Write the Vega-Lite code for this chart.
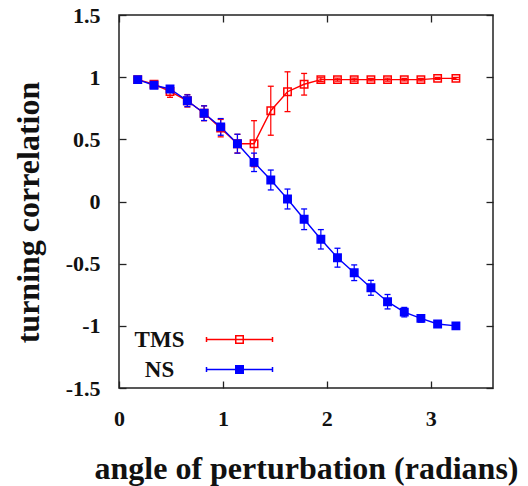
{
  "$schema": "https://vega.github.io/schema/vega-lite/v6.json",
  "width": 374,
  "height": 373,
  "autosize": {"type": "none"},
  "padding": {"left": 119, "top": 15, "right": 35, "bottom": 98},
  "background": "white",
  "config": {
    "view": {"stroke": "#222", "strokeWidth": 1.5},
    "axis": {
      "labelFont": "Liberation Serif",
      "labelFontWeight": "bold",
      "labelFontSize": 22,
      "labelColor": "#111",
      "titleFont": "Liberation Serif",
      "titleFontWeight": "bold",
      "titleFontSize": 32,
      "titleColor": "#111",
      "grid": false,
      "domain": false,
      "tickColor": "#222",
      "tickWidth": 1.3,
      "tickSize": -7,
      "labelFlush": false
    },
    "legend": {
      "orient": "none",
      "legendX": 109,
      "legendY": 313,
      "title": null,
      "symbolType": "M-6.6,0H6.6M-6.6,-0.5V0.5M6.6,-0.5V0.5M-0.75,-0.75H0.75V0.75H-0.75Z",
      "symbolSize": 100,
      "symbolStrokeWidth": 1.5,
      "labelFont": "Liberation Serif",
      "labelFontWeight": "bold",
      "labelFontSize": 23,
      "labelColor": "#111",
      "labelAlign": "center",
      "labelOffset": -91.5,
      "rowPadding": 6,
      "padding": 0
    }
  },
  "data": {
    "values": [
      {"series": "TMS", "x": 0.18, "y": 0.98, "lo": 0.965, "hi": 0.995},
      {"series": "TMS", "x": 0.337, "y": 0.943, "lo": 0.923, "hi": 0.963},
      {"series": "TMS", "x": 0.491, "y": 0.885, "lo": 0.838, "hi": 0.932},
      {"series": "TMS", "x": 0.658, "y": 0.81, "lo": 0.76, "hi": 0.86},
      {"series": "TMS", "x": 0.819, "y": 0.71, "lo": 0.65, "hi": 0.77},
      {"series": "TMS", "x": 0.979, "y": 0.59, "lo": 0.52, "hi": 0.66},
      {"series": "TMS", "x": 1.14, "y": 0.465, "lo": 0.39, "hi": 0.54},
      {"series": "TMS", "x": 1.3, "y": 0.465, "lo": 0.28, "hi": 0.65},
      {"series": "TMS", "x": 1.461, "y": 0.73, "lo": 0.533, "hi": 0.927},
      {"series": "TMS", "x": 1.622, "y": 0.883, "lo": 0.723, "hi": 1.043},
      {"series": "TMS", "x": 1.782, "y": 0.943, "lo": 0.856, "hi": 1.03},
      {"series": "TMS", "x": 1.943, "y": 0.98, "lo": 0.965, "hi": 0.995},
      {"series": "TMS", "x": 2.103, "y": 0.98, "lo": 0.968, "hi": 0.992},
      {"series": "TMS", "x": 2.264, "y": 0.98, "lo": 0.968, "hi": 0.992},
      {"series": "TMS", "x": 2.425, "y": 0.98, "lo": 0.97, "hi": 0.99},
      {"series": "TMS", "x": 2.585, "y": 0.98, "lo": 0.968, "hi": 0.992},
      {"series": "TMS", "x": 2.746, "y": 0.98, "lo": 0.97, "hi": 0.99},
      {"series": "TMS", "x": 2.906, "y": 0.98, "lo": 0.97, "hi": 0.99},
      {"series": "TMS", "x": 3.067, "y": 0.99, "lo": 0.982, "hi": 0.998},
      {"series": "TMS", "x": 3.243, "y": 0.99, "lo": 0.982, "hi": 0.998},
      {"series": "NS", "x": 0.18, "y": 0.98, "lo": 0.968, "hi": 0.992},
      {"series": "NS", "x": 0.337, "y": 0.935, "lo": 0.92, "hi": 0.95},
      {"series": "NS", "x": 0.491, "y": 0.905, "lo": 0.88, "hi": 0.93},
      {"series": "NS", "x": 0.658, "y": 0.81, "lo": 0.763, "hi": 0.857},
      {"series": "NS", "x": 0.819, "y": 0.71, "lo": 0.651, "hi": 0.769},
      {"series": "NS", "x": 0.979, "y": 0.6, "lo": 0.533, "hi": 0.667},
      {"series": "NS", "x": 1.14, "y": 0.465, "lo": 0.389, "hi": 0.541},
      {"series": "NS", "x": 1.3, "y": 0.315, "lo": 0.241, "hi": 0.389},
      {"series": "NS", "x": 1.461, "y": 0.173, "lo": 0.093, "hi": 0.253},
      {"series": "NS", "x": 1.622, "y": 0.02, "lo": -0.06, "hi": 0.1},
      {"series": "NS", "x": 1.782, "y": -0.143, "lo": -0.226, "hi": -0.06},
      {"series": "NS", "x": 1.943, "y": -0.304, "lo": -0.382, "hi": -0.226},
      {"series": "NS", "x": 2.103, "y": -0.452, "lo": -0.528, "hi": -0.376},
      {"series": "NS", "x": 2.264, "y": -0.573, "lo": -0.636, "hi": -0.51},
      {"series": "NS", "x": 2.425, "y": -0.694, "lo": -0.754, "hi": -0.634},
      {"series": "NS", "x": 2.585, "y": -0.806, "lo": -0.864, "hi": -0.748},
      {"series": "NS", "x": 2.746, "y": -0.89, "lo": -0.928, "hi": -0.852},
      {"series": "NS", "x": 2.906, "y": -0.94, "lo": -0.97, "hi": -0.91},
      {"series": "NS", "x": 3.067, "y": -0.985, "lo": -1.005, "hi": -0.965},
      {"series": "NS", "x": 3.243, "y": -1.0, "lo": -1.02, "hi": -0.98}
    ]
  },
  "layer": [
    {
      "mark": {"type": "line", "strokeWidth": 1.4},
      "encoding": {
        "x": {"field": "x", "type": "quantitative", "scale": {"domain": [0, 3.6], "nice": false, "zero": false},
          "axis": {"values": [0, 1, 2, 3], "labelExpr": "datum.value + ''", "labelPadding": 27, "title": "angle of perturbation (radians)", "titleX": 187, "titleY": 80, "titleBaseline": "middle", "titleAlign": "center"}},
        "y": {"field": "y", "type": "quantitative", "scale": {"domain": [-1.5, 1.5], "nice": false, "zero": false},
          "axis": {"values": [-1.5, -1, -0.5, 0, 0.5, 1, 1.5], "labelExpr": "datum.value + ''", "labelPadding": 26, "title": "turning correlation", "titleX": -91, "titleY": 197, "titleBaseline": "middle", "titleAlign": "center", "titleAngle": 270}},
        "stroke": {"field": "series", "type": "nominal", "scale": {"domain": ["TMS", "NS"], "range": ["#ff0000", "#0000ff"]}, "legend": null},
        "detail": {"field": "series"}
      }
    },
    {
      "mark": {"type": "rule", "strokeWidth": 1.2},
      "encoding": {
        "x": {"field": "x", "type": "quantitative", "scale": {"domain": [0, 3.6], "nice": false, "zero": false}, "axis": null},
        "y": {"field": "lo", "type": "quantitative", "scale": {"domain": [-1.5, 1.5], "nice": false, "zero": false}, "axis": null},
        "y2": {"field": "hi"},
        "stroke": {"field": "series", "type": "nominal", "scale": {"domain": ["TMS", "NS"], "range": ["#ff0000", "#0000ff"]}, "legend": null}
      }
    },
    {
      "mark": {"type": "tick", "orient": "horizontal", "size": 6, "thickness": 1.3, "opacity": 1},
      "encoding": {
        "x": {"field": "x", "type": "quantitative", "scale": {"domain": [0, 3.6], "nice": false, "zero": false}, "axis": null},
        "y": {"field": "lo", "type": "quantitative", "scale": {"domain": [-1.5, 1.5], "nice": false, "zero": false}, "axis": null},
        "color": {"field": "series", "type": "nominal", "scale": {"domain": ["TMS", "NS"], "range": ["#ff0000", "#0000ff"]}, "legend": null}
      }
    },
    {
      "mark": {"type": "tick", "orient": "horizontal", "size": 6, "thickness": 1.3, "opacity": 1},
      "encoding": {
        "x": {"field": "x", "type": "quantitative", "scale": {"domain": [0, 3.6], "nice": false, "zero": false}, "axis": null},
        "y": {"field": "hi", "type": "quantitative", "scale": {"domain": [-1.5, 1.5], "nice": false, "zero": false}, "axis": null},
        "color": {"field": "series", "type": "nominal", "scale": {"domain": ["TMS", "NS"], "range": ["#ff0000", "#0000ff"]}, "legend": null}
      }
    },
    {
      "mark": {"type": "point", "shape": "square", "size": 55, "strokeWidth": 1.5, "opacity": 1},
      "encoding": {
        "x": {"field": "x", "type": "quantitative", "scale": {"domain": [0, 3.6], "nice": false, "zero": false},
          "axis": {"orient": "top", "values": [0, 1, 2, 3], "labels": false, "title": null}},
        "y": {"field": "y", "type": "quantitative", "scale": {"domain": [-1.5, 1.5], "nice": false, "zero": false},
          "axis": {"orient": "right", "values": [-1.5, -1, -0.5, 0, 0.5, 1, 1.5], "labels": false, "title": null}},
        "stroke": {"field": "series", "type": "nominal", "scale": {"domain": ["TMS", "NS"], "range": ["#ff0000", "#0000ff"]}},
        "fill": {"field": "series", "type": "nominal", "scale": {"domain": ["TMS", "NS"], "range": ["transparent", "#0000ff"]}}
      }
    }
  ],
  "resolve": {"axis": {"x": "independent", "y": "independent"}, "legend": {"stroke": "independent", "color": "independent", "fill": "independent"}}
}
